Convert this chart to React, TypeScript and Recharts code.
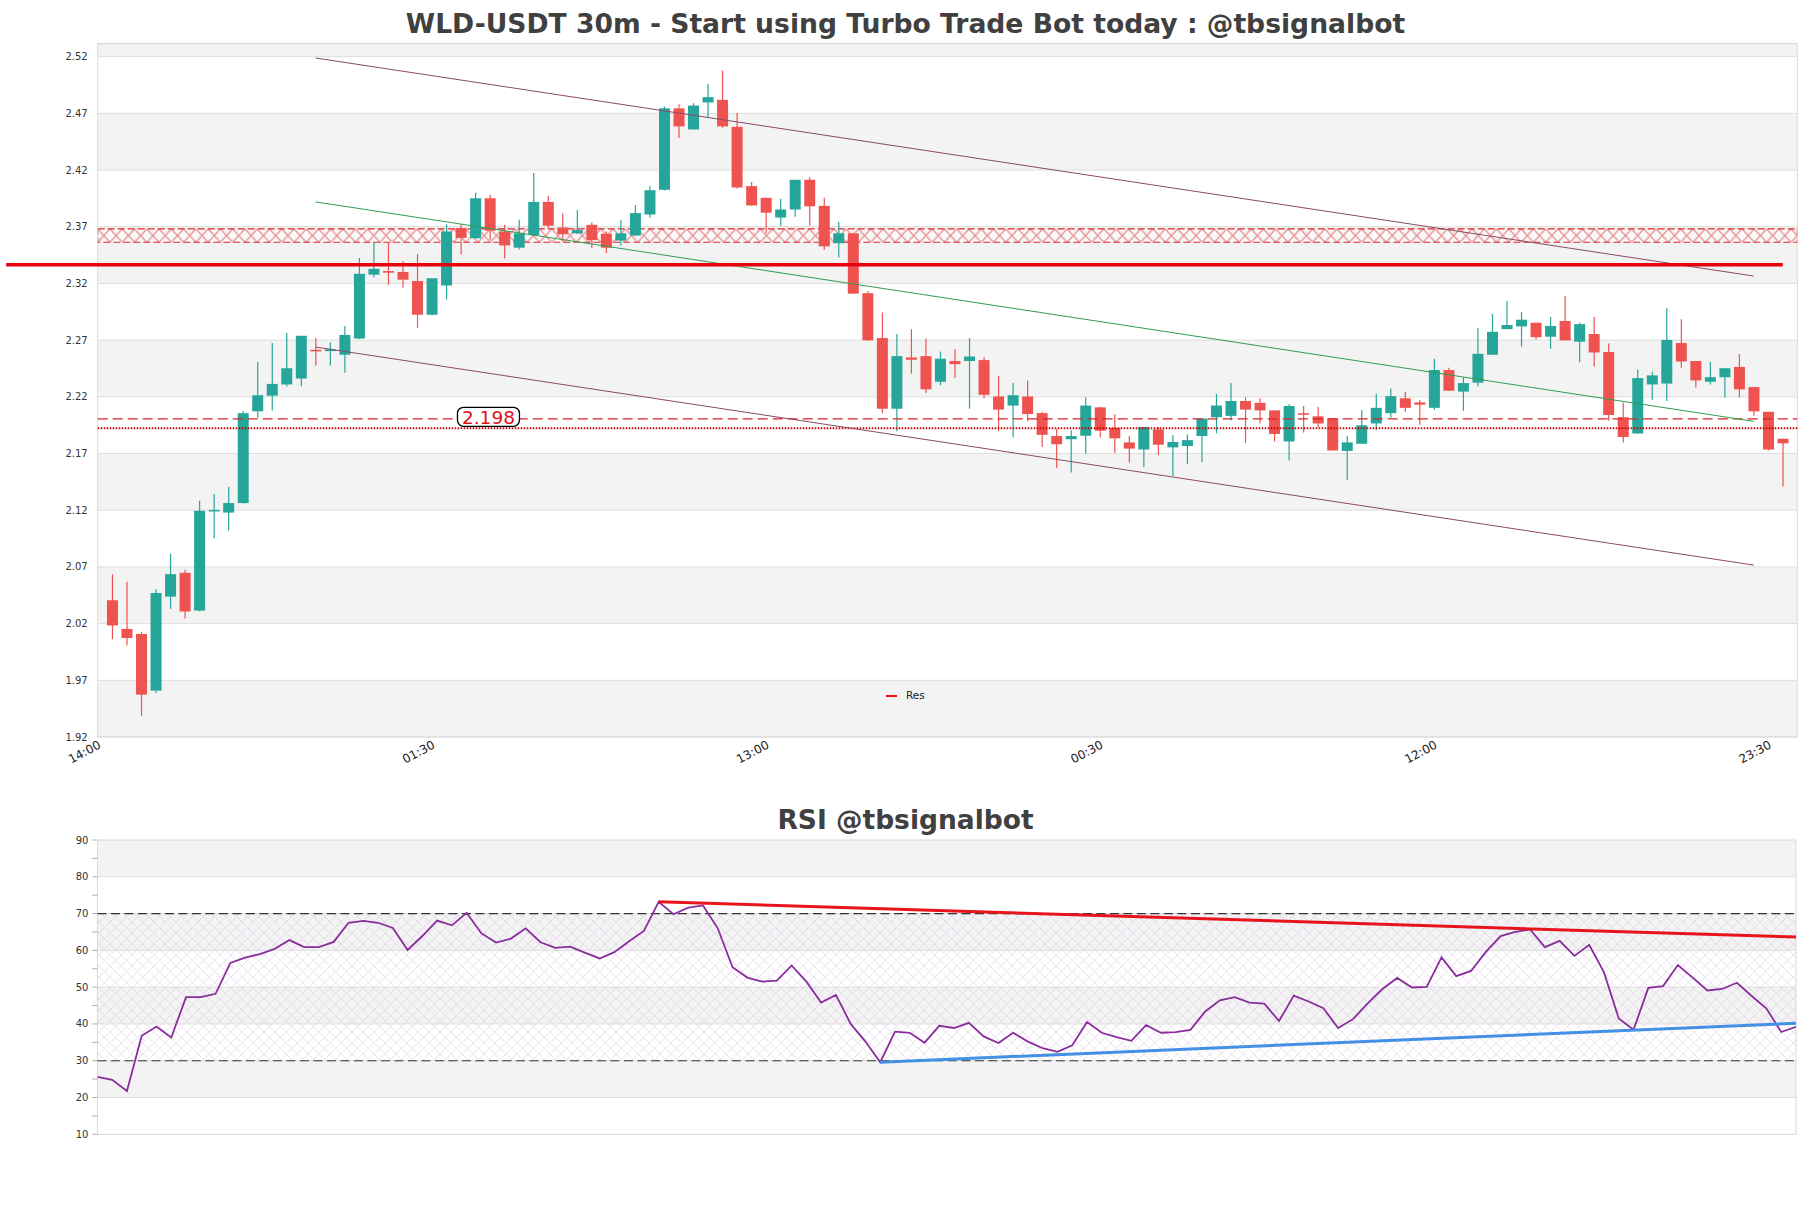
import React from 'react';
import {
  ComposedChart,
  LineChart,
  Line,
  Bar,
  XAxis,
  YAxis,
  CartesianGrid,
  ReferenceLine,
  ReferenceArea,
  ReferenceDot,
} from 'recharts';

// ---------- DATA ----------
const opens = [
  2.0406, 2.0153, 2.0109, 1.9609, 2.0438, 2.0648, 2.0315, 2.1191, 2.1179, 2.1263,
  2.2072, 2.221, 2.2309, 2.2361, 2.2615, 2.2603, 2.2571, 2.2714, 2.3277, 2.3309,
  2.3301, 2.3221, 2.2924, 2.3182, 2.3689, 2.3598, 2.3951, 2.3658, 2.3515, 2.3626,
  2.3919, 2.3693, 2.3642, 2.3717, 2.3638, 2.3578, 2.3622, 2.3808, 2.4026, 2.4744,
  2.4558, 2.4796, 2.4819, 2.4581, 2.4058, 2.3955, 2.3781, 2.3852, 2.4114, 2.3884,
  2.3554, 2.3642, 2.3114, 2.2718, 2.2095, 2.2547, 2.2559, 2.2333, 2.2516, 2.2516,
  2.2524, 2.2203, 2.2123, 2.2203, 2.2056, 2.1854, 2.1826, 2.1857, 2.2107, 2.1925,
  2.1798, 2.1735, 2.1913, 2.1754, 2.1766, 2.1854, 2.202, 2.2032, 2.2163, 2.2147,
  2.208, 2.1806, 2.2056, 2.2028, 2.2008, 2.1723, 2.1786, 2.1965, 2.2056, 2.2187,
  2.2151, 2.2103, 2.2436, 2.2246, 2.2325, 2.2571, 2.2797, 2.2821, 2.2853, 2.273,
  2.2869, 2.2686, 2.2754, 2.2595, 2.202, 2.1877, 2.2309, 2.2317, 2.2674, 2.2516,
  2.2333, 2.2373, 2.2464, 2.2286, 2.2068, 2.183,
];
const highs = [
  2.0636, 2.0569, 2.0129, 2.0502, 2.0815, 2.0676, 2.1283, 2.1342, 2.1405, 2.2072,
  2.2508, 2.2674, 2.2762, 2.2738, 2.2718, 2.2678, 2.2825, 2.3424, 2.3566, 2.356,
  2.3396, 2.3459, 2.3245, 2.3721, 2.3721, 2.3999, 2.3983, 2.3717, 2.3761, 2.4173,
  2.3971, 2.3816, 2.3848, 2.3737, 2.3658, 2.3761, 2.3892, 2.4058, 2.476, 2.478,
  2.4788, 2.4958, 2.5077, 2.4704, 2.4094, 2.3956, 2.3947, 2.4114, 2.4137, 2.3955,
  2.3745, 2.3645, 2.3134, 2.2944, 2.2754, 2.2797, 2.2714, 2.2599, 2.2619, 2.2718,
  2.2551, 2.2385, 2.2325, 2.2345, 2.2068, 2.1917, 2.1905, 2.2195, 2.211, 2.2044,
  2.1857, 2.1935, 2.1933, 2.1861, 2.1869, 2.201, 2.2226, 2.2321, 2.2195, 2.2187,
  2.208, 2.2135, 2.2119, 2.2111, 2.2008, 2.1857, 2.2083, 2.2226, 2.2274, 2.2242,
  2.2171, 2.2536, 2.2456, 2.2373, 2.2805, 2.2932, 2.3047, 2.2948, 2.2855, 2.2904,
  2.3091, 2.2853, 2.2904, 2.267, 2.2151, 2.244, 2.242, 2.298, 2.2884, 2.2516,
  2.2508, 2.2452, 2.2579, 2.2286, 2.2068, 2.183,
];
const lows = [
  2.0061, 2.0006, 1.9387, 1.9589, 2.0331, 2.0244, 2.031, 2.0953, 2.1021, 2.126,
  2.2016, 2.208, 2.229, 2.2294, 2.2476, 2.2476, 2.2413, 2.271, 2.3253, 2.3186,
  2.3162, 2.2809, 2.292, 2.3059, 2.3455, 2.3598, 2.3586, 2.342, 2.3499, 2.362,
  2.3689, 2.3574, 2.3634, 2.3511, 2.3467, 2.3535, 2.362, 2.3781, 2.402, 2.4482,
  2.4555, 2.4665, 2.4573, 2.4038, 2.3885, 2.3642, 2.3709, 2.3788, 2.3709, 2.3495,
  2.3428, 2.311, 2.2695, 2.2056, 2.1897, 2.2405, 2.2234, 2.2302, 2.2365, 2.2095,
  2.2187, 2.1897, 2.1842, 2.1984, 2.1758, 2.1572, 2.1532, 2.1699, 2.1842, 2.1707,
  2.162, 2.158, 2.1687, 2.1501, 2.1608, 2.1624, 2.1877, 2.1992, 2.1794, 2.1965,
  2.1806, 2.1639, 2.1885, 2.1929, 2.1727, 2.1469, 2.1786, 2.1905, 2.2016, 2.2068,
  2.1953, 2.2083, 2.2254, 2.2076, 2.229, 2.257, 2.2795, 2.2643, 2.2706, 2.2623,
  2.2695, 2.2504, 2.2468, 2.1988, 2.1798, 2.1875, 2.2175, 2.2163, 2.2456, 2.2282,
  2.2309, 2.2191, 2.2195, 2.2036, 2.1727, 2.1409,
];
const closes = [
  2.0184, 2.0073, 1.9574, 2.047, 2.0636, 2.0307, 2.1195, 2.1203, 2.1263, 2.2056,
  2.2214, 2.2314, 2.2452, 2.2738, 2.2607, 2.2619, 2.2746, 2.3285, 2.3329, 2.3297,
  2.3233, 2.2924, 2.3245, 2.3658, 2.3602, 2.3951, 2.3665, 2.3535, 2.3642, 2.3919,
  2.3709, 2.3634, 2.367, 2.3582, 2.3515, 2.3642, 2.382, 2.4022, 2.4744, 2.4585,
  2.4768, 2.4843, 2.4585, 2.4046, 2.3888, 2.3824, 2.3852, 2.4114, 2.388, 2.3527,
  2.3642, 2.311, 2.2698, 2.2095, 2.2559, 2.2527, 2.2266, 2.2536, 2.2488, 2.2555,
  2.2218, 2.2087, 2.2214, 2.2048, 2.1865, 2.1782, 2.1854, 2.2123, 2.1901, 2.1834,
  2.1743, 2.1933, 2.1778, 2.1802, 2.1818, 2.2008, 2.2123, 2.2163, 2.2087, 2.208,
  2.1873, 2.2119, 2.2048, 2.1965, 2.1727, 2.1798, 2.1949, 2.2103, 2.2206, 2.2103,
  2.2131, 2.2436, 2.2254, 2.2321, 2.2579, 2.2773, 2.2833, 2.288, 2.2726, 2.2825,
  2.2698, 2.2841, 2.2591, 2.204, 2.1846, 2.2365, 2.2389, 2.2702, 2.2512, 2.2345,
  2.2373, 2.2452, 2.2266, 2.2072, 2.1735, 2.179,
];

const rsiValues = [
  25.6, 24.8, 21.8, 36.8, 39.3, 36.3, 47.3, 47.3, 48.2, 56.6,
  58.0, 59.0, 60.4, 62.8, 60.9, 60.9, 62.3, 67.5, 68.0, 67.5,
  66.1, 60.1, 63.9, 68.1, 66.8, 70.2, 64.6, 62.1, 63.2, 66.0,
  62.2, 60.7, 61.0, 59.4, 57.8, 59.5, 62.5, 65.3, 73.2, 69.8,
  71.6, 72.2, 66.0, 55.4, 52.6, 51.5, 51.8, 55.9, 51.5, 45.8,
  47.9, 40.0, 35.2, 29.6, 37.9, 37.6, 34.9, 39.5, 38.9, 40.3,
  36.6, 34.8, 37.6, 35.2, 33.4, 32.4, 34.2, 40.5, 37.6, 36.4,
  35.4, 39.7, 37.6, 37.8, 38.4, 43.4, 46.4, 47.3, 45.8, 45.5,
  40.8, 47.7, 46.1, 44.3, 38.9, 41.3, 45.6, 49.5, 52.5, 49.9,
  50.1, 58.1, 53.0, 54.4, 59.6, 63.9, 65.0, 65.7, 60.9, 62.6,
  58.5, 61.5, 54.0, 41.5, 38.4, 49.8, 50.3, 56.0, 52.6, 49.1,
  49.5, 51.2, 47.6, 44.2, 37.8, 39.2,
];

const xTickIdx = [0, 23, 46, 69, 92, 115];
const xTickLabels = ['14:00', '01:30', '13:00', '00:30', '12:00', '23:30'];
const priceTicks = [1.92, 1.97, 2.02, 2.07, 2.12, 2.17, 2.22, 2.27, 2.32, 2.37, 2.42, 2.47, 2.52];
const priceDomain = [1.92, 2.5315];
const xDomain = [0, 117];

const rsiTicks = [10, 15, 20, 25, 30, 35, 40, 45, 50, 55, 60, 65, 70, 75, 80, 85, 90];
const rsiGridValues = [20, 30, 40, 50, 60, 70, 80];
const rsiBands = [[80, 90], [60, 70], [40, 50], [20, 30]];
const rsiLevels = [70, 30];
const rsiHatchZone = [30, 70];

const resLevel = 2.3364;
const resLevelStart = -6.3;
const resZone = [2.3563, 2.3681];
const supDashed = 2.2005;
const supDotted = 2.1922;
const tagText = '2.198';
const tagPos = { x: 26.9, y: 2.2024 };
const greenTrend = [{ x: 15, y: 2.3919 }, { x: 114, y: 2.1984 }];
const upperChannel = [{ x: 15, y: 2.5188 }, { x: 114, y: 2.3265 }];
const lowerChannel = [{ x: 15, y: 2.2639 }, { x: 114, y: 2.0716 }];
const rsiResTrend = [{ x: 38, y: 73.2 }, { x: 115, y: 63.6 }];
const rsiSupTrend = [{ x: 53, y: 29.6 }, { x: 115, y: 40.2 }];

const candles = opens.map((o, i) => ({
  x: i + 1,
  range: [lows[i], highs[i]],
  o,
  h: highs[i],
  l: lows[i],
  c: closes[i],
}));
const rsiData = rsiValues.map((v, k) => ({ k, rsi: v }));

const UP = '#26a69a';
const DOWN = '#ef5350';
const FONT = '"DejaVu Sans", sans-serif';

// ---------- SHAPES ----------
const Candle = (props: any) => {
  const { x, y, width, height, payload } = props;
  if (!payload) return null;
  const { o, h, l, c } = payload;
  const top = Math.min(y, y + height);
  const bot = Math.max(y, y + height);
  const span = h - l;
  const toPx = (v: number) => (span === 0 ? top : top + ((h - v) / span) * (bot - top));
  const color = c >= o ? UP : DOWN;
  const cx = x + width / 2;
  const bTop = toPx(Math.max(o, c));
  const bBot = toPx(Math.min(o, c));
  return (
    <g>
      <line x1={cx} x2={cx} y1={top} y2={bot} stroke={color} strokeWidth={1.2} />
      <rect x={x} y={bTop} width={width} height={Math.max(bBot - bTop, 1.6)} fill={color} />
    </g>
  );
};

const PriceTag = (props: any) => {
  const { cx, cy } = props;
  if (cx == null || cy == null) return null;
  return (
    <g>
      <rect x={cx - 31} y={cy - 9.5} width={62} height={19} rx={6} ry={6} fill="#ffffff" stroke="#000" strokeWidth={1.3} />
      <text x={cx} y={cy} dy="0.37em" textAnchor="middle" fill="#e0101a" fontSize={18.5} fontFamily={FONT}>
        {tagText}
      </text>
    </g>
  );
};

const XTick = (props: any) => {
  const { x, y, payload } = props;
  const idx = xTickIdx.indexOf(payload.value);
  const label = idx >= 0 ? xTickLabels[idx] : '';
  return (
    <text
      x={x}
      y={y}
      dy="0.71em"
      textAnchor="end"
      transform={`rotate(-28 ${x} ${y})`}
      fontSize={12}
      fill="#222"
      fontFamily={FONT}
    >
      {label}
    </text>
  );
};

const RsiTick = (props: any) => {
  const { x, y, payload } = props;
  if (payload.value % 10 !== 0) return null;
  return (
    <text x={x} y={y} dy="0.35em" textAnchor="end" fontSize={10} fill="#333" fontFamily={FONT}>
      {payload.value}
    </text>
  );
};

export default function App() {
  return (
    <div
      style={{
        position: 'absolute',
        left: 0,
        top: 0,
        width: 1811,
        height: 1208,
        background: '#ffffff',
        overflow: 'hidden',
        fontFamily: FONT,
      }}
    >
      <svg width={0} height={0} style={{ position: 'absolute' }}>
        <defs>
          <pattern id="resHatch" patternUnits="objectBoundingBox" width="0.00722" height="1" viewBox="0 0 12 12" preserveAspectRatio="none">
            <rect x={0} y={0} width={12} height={12} fill="#ffffff" />
            <path d="M0,0 L12,12 M12,0 L0,12" stroke="#dc2a2e" strokeWidth={1.3} fill="none" />
          </pattern>
          <pattern id="rsiHatch" patternUnits="userSpaceOnUse" width="11" height="11">
            <path d="M0,0 L11,11 M11,0 L0,11" stroke="#c7acd6" strokeWidth={0.7} fill="none" />
          </pattern>
        </defs>
      </svg>

      {/* Main price chart */}
      <div style={{ position: 'absolute', left: 0, top: 0 }}>
        <ComposedChart
          width={1811}
          height={780}
          data={candles}
          margin={{ top: 43.6, right: 13.7, bottom: 3, left: 0 }}
        >
          <CartesianGrid vertical={false} stroke="#dedede" horizontalFill={['#ffffff', '#f3f3f3']} />
          <XAxis
            type="number"
            dataKey="x"
            domain={xDomain}
            ticks={xTickIdx}
            interval={0}
            allowDataOverflow
            tickLine={false}
            axisLine={false}
            tickSize={0}
            tickMargin={3}
            height={40}
            tick={<XTick />}
          />
          <YAxis
            type="number"
            domain={priceDomain}
            ticks={priceTicks}
            interval={0}
            allowDataOverflow
            width={97.7}
            tickLine={false}
            axisLine={false}
            tickSize={6}
            tickMargin={4}
            tick={{ fontSize: 10, fill: '#333' }}
            tickFormatter={(v: number) => v.toFixed(2)}
          />
          <ReferenceArea y1={supDotted} y2={supDashed} fill="#ffffff" fillOpacity={0.8} stroke="none" ifOverflow="visible" />
          <ReferenceArea y1={resZone[0]} y2={resZone[1]} fill="url(#resHatch)" stroke="#dc2a2e" strokeDasharray="7 3" strokeWidth={1.1} ifOverflow="visible" />
          <Bar dataKey="range" barSize={11} shape={<Candle />} isAnimationActive={false} />
          <ReferenceLine y={supDashed} stroke="#dc2228" strokeWidth={1.2} strokeDasharray="10 5" ifOverflow="visible" />
          <ReferenceLine y={supDotted} stroke="#c80000" strokeWidth={2} strokeDasharray="1.5 1.5" ifOverflow="visible" />
          <ReferenceLine segment={upperChannel} stroke="#8c4a63" strokeWidth={1} ifOverflow="visible" />
          <ReferenceLine segment={lowerChannel} stroke="#8c4a63" strokeWidth={1} ifOverflow="visible" />
          <ReferenceLine segment={greenTrend} stroke="#2e9e4f" strokeWidth={1} ifOverflow="visible" />
          <ReferenceLine
            segment={[{ x: resLevelStart, y: resLevel }, { x: 116, y: resLevel }]}
            stroke="#e8000e"
            strokeWidth={3.5}
            ifOverflow="visible"
          />
          <ReferenceDot x={tagPos.x} y={tagPos.y} shape={<PriceTag />} ifOverflow="visible" />
          <ReferenceArea x1={xDomain[0]} x2={xDomain[1]} y1={priceDomain[0]} y2={priceDomain[1]} fill="none" stroke="#d9d9d9" strokeWidth={1} ifOverflow="visible" />
        </ComposedChart>
      </div>

      {/* RSI chart */}
      <div style={{ position: 'absolute', left: 0, top: 790 }}>
        <LineChart
          width={1811}
          height={360}
          data={rsiData}
          margin={{ top: 50, right: 15, bottom: 15.7, left: 0 }}
        >
          <XAxis type="number" dataKey="k" domain={[0, 115]} hide allowDataOverflow />
          <YAxis
            type="number"
            domain={[10, 90]}
            ticks={rsiTicks}
            interval={0}
            allowDataOverflow
            width={97.4}
            axisLine={false}
            tickLine={{ stroke: '#aaaaaa' }}
            tickSize={5}
            tickMargin={4}
            tick={<RsiTick />}
          />
          {rsiBands.map((b, i) => (
            <ReferenceArea key={'band' + i} y1={b[0]} y2={b[1]} fill="#f3f3f3" fillOpacity={1} stroke="none" ifOverflow="visible" />
          ))}
          <ReferenceArea y1={rsiHatchZone[0]} y2={rsiHatchZone[1]} fill="url(#rsiHatch)" stroke="none" ifOverflow="visible" />
          {rsiGridValues.map((v) => (
            <ReferenceLine key={'g' + v} y={v} stroke="#dedede" strokeWidth={1} ifOverflow="visible" />
          ))}
          {rsiLevels.map((v) => (
            <ReferenceLine key={'lvl' + v} y={v} stroke="#333" strokeWidth={1.2} strokeDasharray="9 4.5" ifOverflow="visible" />
          ))}
          <Line type="linear" dataKey="rsi" stroke="#8a2d9c" strokeWidth={1.8} dot={false} isAnimationActive={false} />
          <ReferenceLine segment={rsiResTrend} stroke="#e8141c" strokeWidth={3} ifOverflow="visible" />
          <ReferenceLine segment={rsiSupTrend} stroke="#4391e6" strokeWidth={3} ifOverflow="visible" />
          <ReferenceArea x1={0} x2={115} y1={10} y2={90} fill="none" stroke="#d9d9d9" strokeWidth={1} ifOverflow="visible" />
        </LineChart>
      </div>

      {/* Titles & legend (real text) */}
      <div
        style={{
          position: 'absolute',
          left: 0,
          top: 10.5,
          width: 1811,
          textAlign: 'center',
          fontSize: 26.6,
          lineHeight: '26px',
          fontWeight: 'bold',
          color: '#404040',
          whiteSpace: 'nowrap',
        }}
      >
        WLD-USDT 30m - Start using Turbo Trade Bot today : @tbsignalbot
      </div>
      <div
        style={{
          position: 'absolute',
          left: 0,
          top: 806.5,
          width: 1811,
          textAlign: 'center',
          fontSize: 26.5,
          lineHeight: '26px',
          fontWeight: 'bold',
          color: '#404040',
          whiteSpace: 'nowrap',
        }}
      >
        RSI @tbsignalbot
      </div>
      <div style={{ position: 'absolute', left: 886, top: 694.5, width: 11, height: 2.2, background: '#e8141c' }} />
      <div style={{ position: 'absolute', left: 906, top: 689.4, fontSize: 10.5, lineHeight: '12px', color: '#222' }}>Res</div>
    </div>
  );
}
